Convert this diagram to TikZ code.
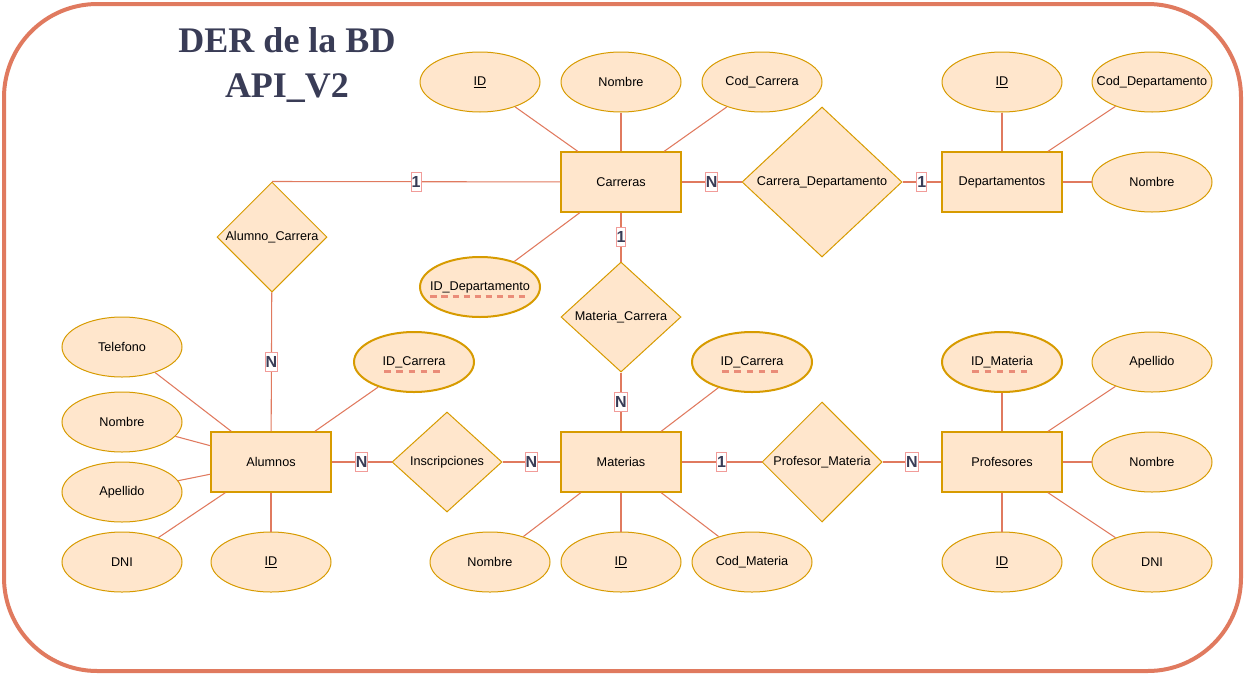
\documentclass[tikz,border=0pt]{standalone}
\usepackage{fontspec}
\setmainfont{Liberation Sans}
\newfontfamily\titlefont{Liberation Serif}
\usetikzlibrary{shapes.geometric}
\definecolor{attrfill}{HTML}{FFE6CC}
\definecolor{attrdraw}{HTML}{D79B00}
\definecolor{linkcol}{HTML}{E07A5F}
\definecolor{cardbox}{HTML}{F19C99}
\definecolor{cardtext}{HTML}{393C56}
\definecolor{keydash}{HTML}{EA8C78}
\newsavebox\keybox
\newcommand{\dashkey}[1]{\sbox\keybox{#1}\usebox\keybox\llap{\raisebox{-5.6pt}[0pt][0pt]{\color{keydash}\hbox to \wd\keybox{\xleaders\hbox to 8pt{\rule{4.8pt}{1.8pt}\hss}\hfill}}}}

\begin{document}
\begin{tikzpicture}[x=0.75pt,y=-0.75pt,node distance=75pt,
    every node/.style={font=\fontsize{9.5}{11}\selectfont},
    entity/.style={draw=attrdraw,fill=attrfill,line width=1pt,minimum width=90pt,minimum height=45pt},
    attr/.style={ellipse,draw=attrdraw,fill=attrfill,line width=0.75pt,minimum width=90pt,minimum height=45pt,inner xsep=-12pt,inner ysep=0pt},
    keyattr/.style={attr,line width=1.5pt},
    rel/.style={diamond,draw=attrdraw,fill=attrfill,line width=0.75pt,inner sep=0pt},
    card/.style={draw=cardbox,fill=white,text=cardtext,line width=0.75pt,font=\bfseries\fontsize{12}{13}\selectfont,inner xsep=0.4pt,inner ysep=0pt,minimum height=14.5pt},
    link/.style={draw=linkcol,line width=0.8pt}]
            \useasboundingbox (0,0) rectangle (1245,675);
            \draw[linkcol,line width=3pt,rounded corners=70pt] (4,4) rectangle (1241,671);
            \node[text=cardtext,align=center,inner sep=0pt,font=\titlefont\bfseries\fontsize{27}{34}\selectfont] (titulo) at (287,65) {DER de la BD\\API\_V2};

            \node[entity] (carr) at (621,182) {Carreras};
            \node[entity] (dep) at (1002,182) {Departamentos};
            \node[entity] (alu) at (271,462) {Alumnos};
            \node[entity] (mat) at (621,462) {Materias};
            \node[entity] (prof) at (1002,462) {Profesores};

            \node[rel,minimum width=82.5pt,minimum height=82.5pt] (aluCarr) at (272,237) {Alumno\_Carrera};
            \node[rel,minimum width=120pt,minimum height=112.5pt] (carrDep) at (822,182) {Carrera\_Departamento};
            \node[rel,minimum width=90pt,minimum height=82.5pt] (matCarr) at (621,317) {Materia\_Carrera};
            \node[rel,minimum width=82.5pt,minimum height=75pt] (insc) at (447,462) {Inscripciones};
            \node[rel,minimum width=90pt,minimum height=90pt] (profMat) at (822,462) {Profesor\_Materia};

            \node[attr] (carrID) at (480,82) {\underline{ID}};
            \node[attr] (carrNom) [above of=carr] {Nombre};
            \node[attr] (carrCod) at (762,82) {Cod\_Carrera};
            \node[keyattr] (carrIdDep) at (480,287) {\dashkey{ID\_Departamento}};

            \node[attr] (depID) [above of=dep] {\underline{ID}};
            \node[attr] (depCod) at (1152,82) {Cod\_Departamento};
            \node[attr] (depNom) at (1152,182) {Nombre};

            \node[attr] (aluTel) at (122,347) {Telefono};
            \node[attr] (aluNom) at (122,422) {Nombre};
            \node[attr] (aluApe) at (122,492) {Apellido};
            \node[attr] (aluDNI) at (122,562) {DNI};
            \node[attr] (aluID) [below of=alu] {\underline{ID}};
            \node[keyattr] (aluIdCarr) at (414,362) {\dashkey{ID\_Carrera}};

            \node[attr] (matNom) at (490,562) {Nombre};
            \node[attr] (matID) [below of=mat] {\underline{ID}};
            \node[attr] (matCod) at (752,562) {Cod\_Materia};
            \node[keyattr] (matIdCarr) at (752,362) {\dashkey{ID\_Carrera}};

            \node[keyattr] (profIdMat) [above of=prof] {\dashkey{ID\_Materia}};
            \node[attr] (profApe) at (1152,362) {Apellido};
            \node[attr] (profNom) at (1152,462) {Nombre};
            \node[attr] (profDNI) at (1152,562) {DNI};
            \node[attr] (profID) [below of=prof] {\underline{ID}};

            \draw[link] (carr) -- (carrID);
            \draw[link] (carr) -- (carrNom);
            \draw[link] (carr) -- (carrCod);
            \draw[link] (carr) -- (carrIdDep);
            \draw[link] (dep) -- (depID);
            \draw[link] (dep) -- (depCod);
            \draw[link] (dep) -- (depNom);
            \draw[link] (alu) -- (aluTel);
            \draw[link] (alu) -- (aluNom);
            \draw[link] (alu) -- (aluApe);
            \draw[link] (alu) -- (aluDNI);
            \draw[link] (alu) -- (aluID);
            \draw[link] (alu) -- (aluIdCarr);
            \draw[link] (mat) -- (matNom);
            \draw[link] (mat) -- (matID);
            \draw[link] (mat) -- (matCod);
            \draw[link] (mat) -- (matIdCarr);
            \draw[link] (prof) -- (profIdMat);
            \draw[link] (prof) -- (profApe);
            \draw[link] (prof) -- (profNom);
            \draw[link] (prof) -- (profDNI);
            \draw[link] (prof) -- (profID);

            \draw[link] (carr) -- node[card] {1} (aluCarr.north);
            \draw[link] (aluCarr) -- node[card] {N} (alu);
            \draw[link] (carr) -- node[card] {N} (carrDep);
            \draw[link] (carrDep) -- node[card] {1} (dep);
            \draw[link] (carr) -- node[card] {1} (matCarr);
            \draw[link] (matCarr) -- node[card] {N} (mat);
            \draw[link] (alu) -- node[card] {N} (insc);
            \draw[link] (insc) -- node[card] {N} (mat);
            \draw[link] (mat) -- node[card] {1} (profMat);
            \draw[link] (profMat) -- node[card] {N} (prof);
        \end{tikzpicture}
\end{document}
